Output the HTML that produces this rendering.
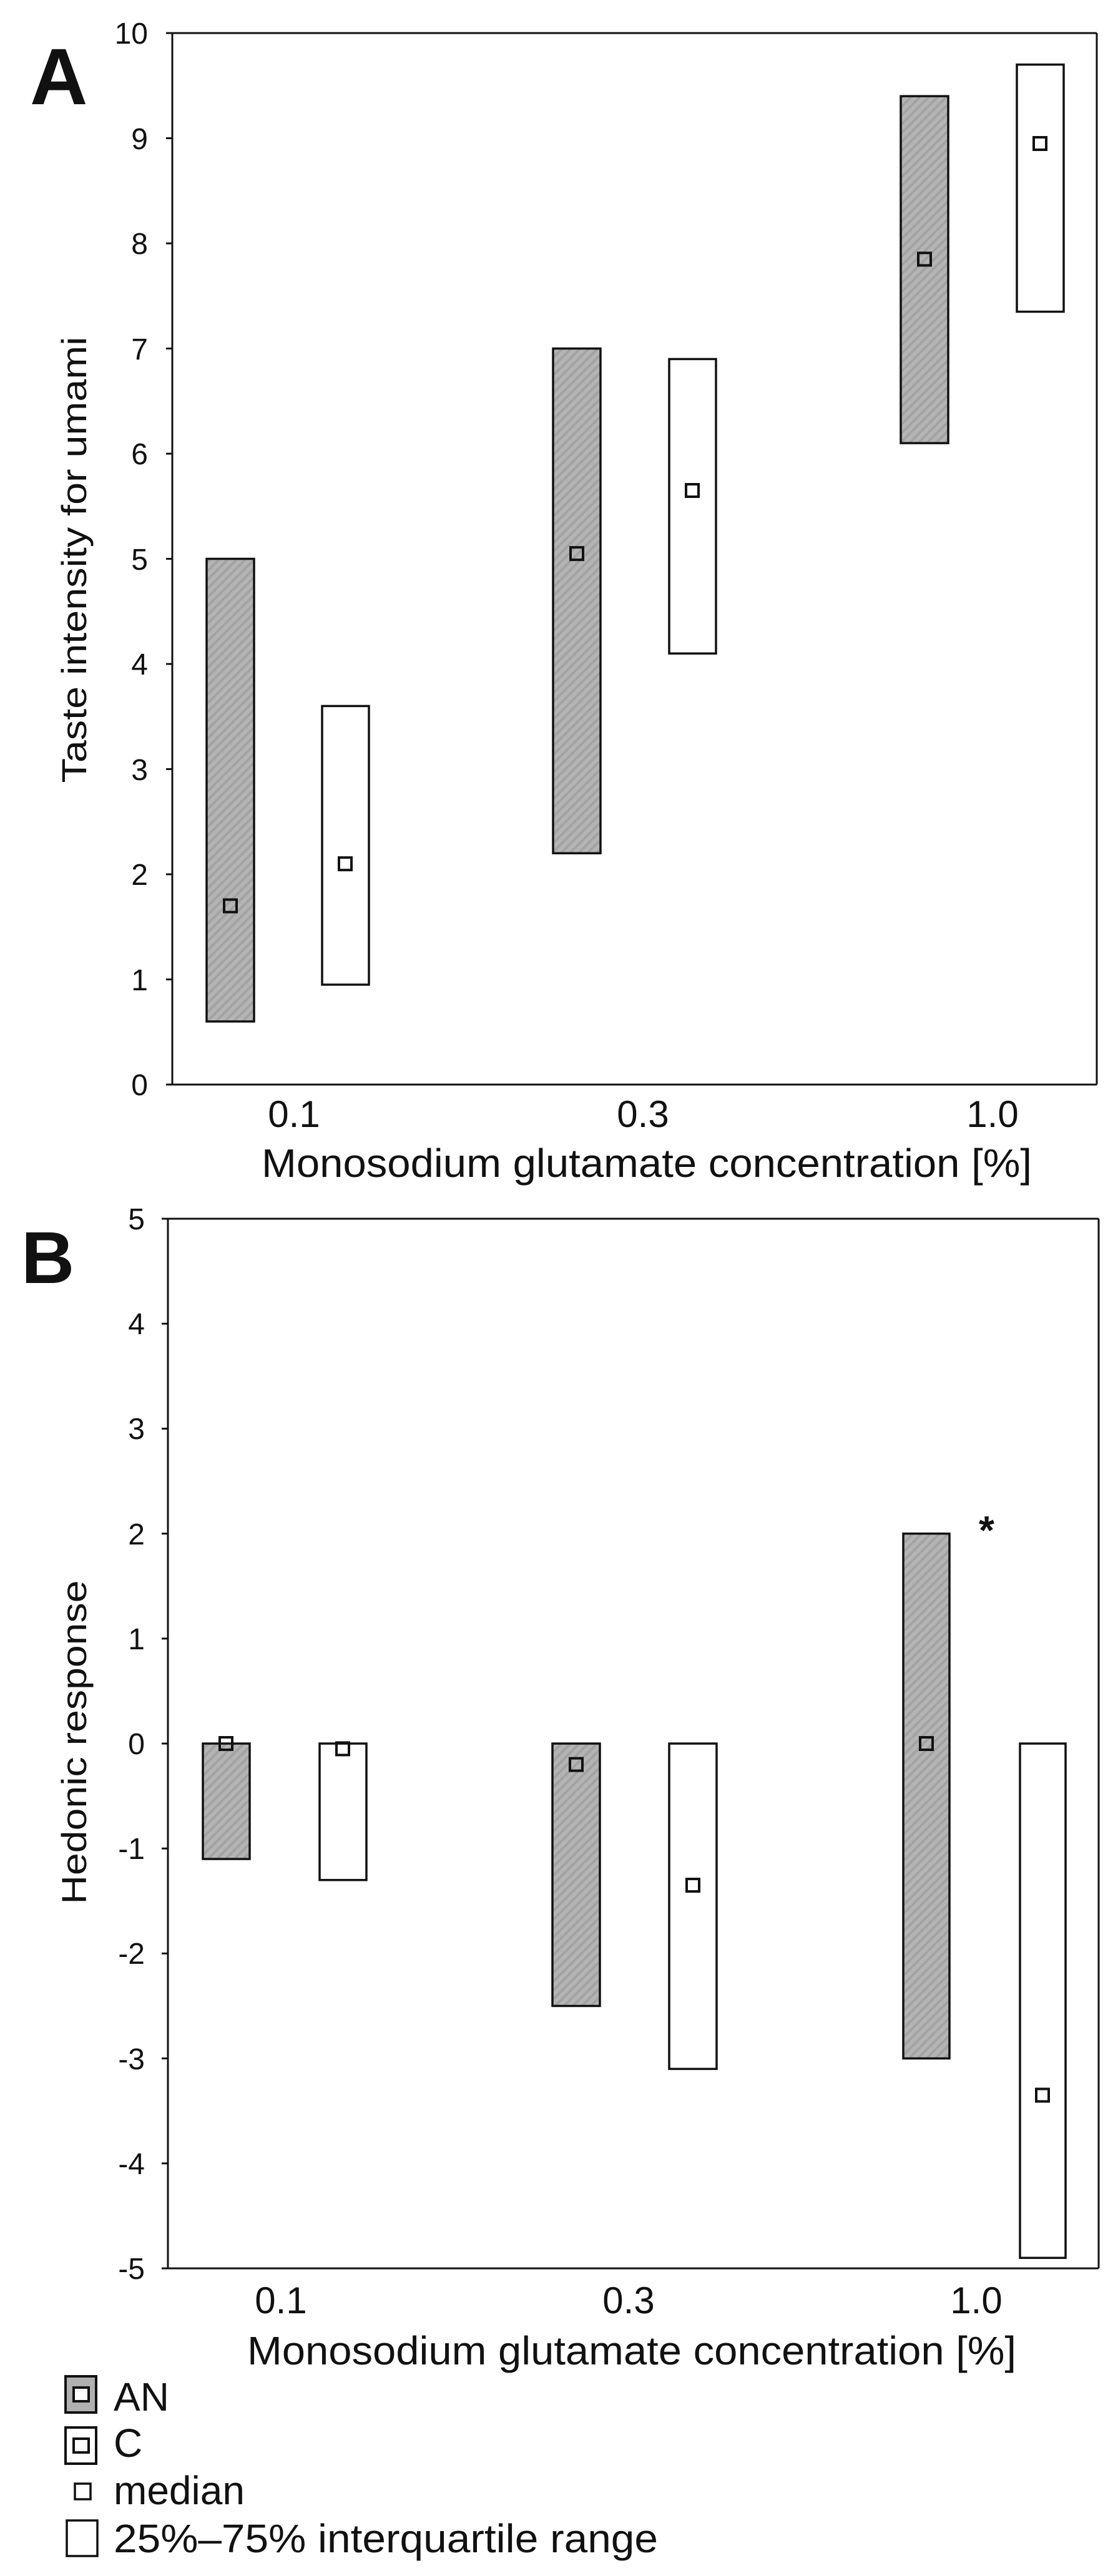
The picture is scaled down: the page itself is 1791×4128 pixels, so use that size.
<!DOCTYPE html>
<html><head><meta charset="utf-8"><style>
html,body{margin:0;padding:0;background:#fff;}
svg{display:block;}
text{font-family:"Liberation Sans",Arial,sans-serif;fill:#111;}
</style></head><body>
<svg width="1791" height="4128" viewBox="0 0 1791 4128" xmlns="http://www.w3.org/2000/svg">
<defs>
<pattern id="h" patternUnits="userSpaceOnUse" width="10" height="10" patternTransform="rotate(45)">
<rect width="10" height="10" fill="#b4b4b4"/>
<rect width="4" height="10" fill="#a2a2a2"/>
</pattern>
</defs>
<rect width="1791" height="4128" fill="#fff"/>

<!-- PANEL A -->
<text x="48" y="167" font-size="128" font-weight="bold">A</text>
<g stroke="#111" stroke-width="3" fill="none">
<line x1="276" y1="53" x2="1757" y2="53"/>
<line x1="1757" y1="53" x2="1757" y2="1738"/>
<line x1="276" y1="53" x2="276" y2="1738"/>
<line x1="276" y1="1738" x2="1757" y2="1738"/>
<line x1="266" y1="53" x2="276" y2="53"/><line x1="266" y1="221.5" x2="276" y2="221.5"/>
<line x1="266" y1="390" x2="276" y2="390"/><line x1="266" y1="558.5" x2="276" y2="558.5"/>
<line x1="266" y1="727" x2="276" y2="727"/><line x1="266" y1="895.5" x2="276" y2="895.5"/>
<line x1="266" y1="1064" x2="276" y2="1064"/><line x1="266" y1="1232.5" x2="276" y2="1232.5"/>
<line x1="266" y1="1401" x2="276" y2="1401"/><line x1="266" y1="1569.5" x2="276" y2="1569.5"/>
<line x1="266" y1="1738" x2="276" y2="1738"/>
</g>
<g font-size="48" text-anchor="end">
<text x="237" y="70">10</text><text x="237" y="239">9</text><text x="237" y="407">8</text>
<text x="237" y="576">7</text><text x="237" y="744">6</text><text x="237" y="913">5</text>
<text x="237" y="1081">4</text><text x="237" y="1250">3</text><text x="237" y="1418">2</text>
<text x="237" y="1587">1</text><text x="237" y="1755">0</text>
</g>
<g font-size="60" text-anchor="middle">
<text x="471" y="1806">0.1</text><text x="1030" y="1806">0.3</text><text x="1590" y="1806">1.0</text>
</g>
<text x="1036" y="1886" font-size="64" text-anchor="middle" textLength="1234" lengthAdjust="spacingAndGlyphs">Monosodium glutamate concentration [%]</text>
<text transform="translate(138,897) rotate(-90)" font-size="56" text-anchor="middle" textLength="715" lengthAdjust="spacingAndGlyphs">Taste intensity for umami</text>

<g stroke="#111" stroke-width="3.5">
<rect x="331" y="895.5" width="76" height="741.4" fill="url(#h)"/>
<rect x="516" y="1131.4" width="75" height="446.5" fill="#fff"/>
<rect x="886" y="558.5" width="76" height="808.8" fill="url(#h)"/>
<rect x="1072" y="575.4" width="75" height="471.8" fill="#fff"/>
<rect x="1443" y="154.1" width="76" height="556" fill="url(#h)"/>
<rect x="1629" y="103.5" width="75" height="396" fill="#fff"/>
</g>
<g stroke="#111" stroke-width="4" fill="none">
<rect x="359" y="1441.6" width="20" height="20"/>
<rect x="543" y="1374.2" width="20" height="20"/>
<rect x="914" y="877.1" width="20" height="20"/>
<rect x="1099" y="776" width="20" height="20"/>
<rect x="1471" y="405.3" width="20" height="20"/>
<rect x="1656" y="220" width="20" height="20"/>
</g>

<!-- PANEL B -->
<text x="34" y="2056" font-size="118" font-weight="bold">B</text>
<g stroke="#111" stroke-width="3" fill="none">
<line x1="269" y1="1953" x2="1760" y2="1953"/>
<line x1="1760" y1="1953" x2="1760" y2="3635"/>
<line x1="269" y1="1953" x2="269" y2="3635"/>
<line x1="269" y1="3635" x2="1760" y2="3635"/>
<line x1="259" y1="1953" x2="269" y2="1953"/><line x1="259" y1="2121.2" x2="269" y2="2121.2"/>
<line x1="259" y1="2289.4" x2="269" y2="2289.4"/><line x1="259" y1="2457.6" x2="269" y2="2457.6"/>
<line x1="259" y1="2625.8" x2="269" y2="2625.8"/><line x1="259" y1="2794" x2="269" y2="2794"/>
<line x1="259" y1="2962.2" x2="269" y2="2962.2"/><line x1="259" y1="3130.4" x2="269" y2="3130.4"/>
<line x1="259" y1="3298.6" x2="269" y2="3298.6"/><line x1="259" y1="3466.8" x2="269" y2="3466.8"/>
<line x1="259" y1="3635" x2="269" y2="3635"/>
</g>
<g font-size="48" text-anchor="end">
<text x="232" y="1970">5</text><text x="232" y="2138">4</text><text x="232" y="2306">3</text>
<text x="232" y="2475">2</text><text x="232" y="2643">1</text><text x="232" y="2811">0</text>
<text x="232" y="2979">-1</text><text x="232" y="3147">-2</text><text x="232" y="3316">-3</text>
<text x="232" y="3484">-4</text><text x="232" y="3652">-5</text>
</g>
<g font-size="60" text-anchor="middle">
<text x="450" y="3707">0.1</text><text x="1007" y="3707">0.3</text><text x="1564" y="3707">1.0</text>
</g>
<text x="1012" y="3789" font-size="64" text-anchor="middle" textLength="1232" lengthAdjust="spacingAndGlyphs">Monosodium glutamate concentration [%]</text>
<text transform="translate(138,2792) rotate(-90)" font-size="56" text-anchor="middle" textLength="519" lengthAdjust="spacingAndGlyphs">Hedonic response</text>
<text x="1568" y="2474" font-size="64" font-weight="bold">*</text>

<g stroke="#111" stroke-width="3.5">
<rect x="325" y="2794" width="75" height="185" fill="url(#h)"/>
<rect x="512" y="2794" width="75" height="218.7" fill="#fff"/>
<rect x="885" y="2794" width="76" height="420.5" fill="url(#h)"/>
<rect x="1072" y="2794" width="76" height="521.4" fill="#fff"/>
<rect x="1447" y="2457.6" width="74" height="841" fill="url(#h)"/>
<rect x="1634" y="2794" width="73" height="824.2" fill="#fff"/>
</g>
<g stroke="#111" stroke-width="4" fill="none">
<rect x="352" y="2784" width="20" height="20"/>
<rect x="539" y="2792.4" width="20" height="20"/>
<rect x="913" y="2817.6" width="20" height="20"/>
<rect x="1100" y="3011" width="20" height="20"/>
<rect x="1474" y="2784" width="20" height="20"/>
<rect x="1660" y="3347.5" width="20" height="20"/>
</g>

<!-- LEGEND -->
<g stroke="#111" stroke-width="4">
<rect x="105" y="3808" width="49" height="58" fill="#b0b0b0"/>
<rect x="118" y="3826" width="24" height="22" fill="#fff"/>
<rect x="105" y="3890" width="49" height="58" fill="#fff"/>
<rect x="118" y="3908" width="24" height="22" fill="#fff"/>
<rect x="120" y="3980" width="25" height="25" fill="#fff" stroke-width="3.5"/>
<rect x="107" y="4039" width="49" height="57" fill="#fff" stroke-width="3.5"/>
</g>
<g font-size="64">
<text x="182" y="3863">AN</text>
<text x="182" y="3937">C</text>
<text x="182" y="4013">median</text>
<text x="182" y="4090" textLength="872" lengthAdjust="spacingAndGlyphs">25%–75% interquartile range</text>
</g>
</svg>
</body></html>
